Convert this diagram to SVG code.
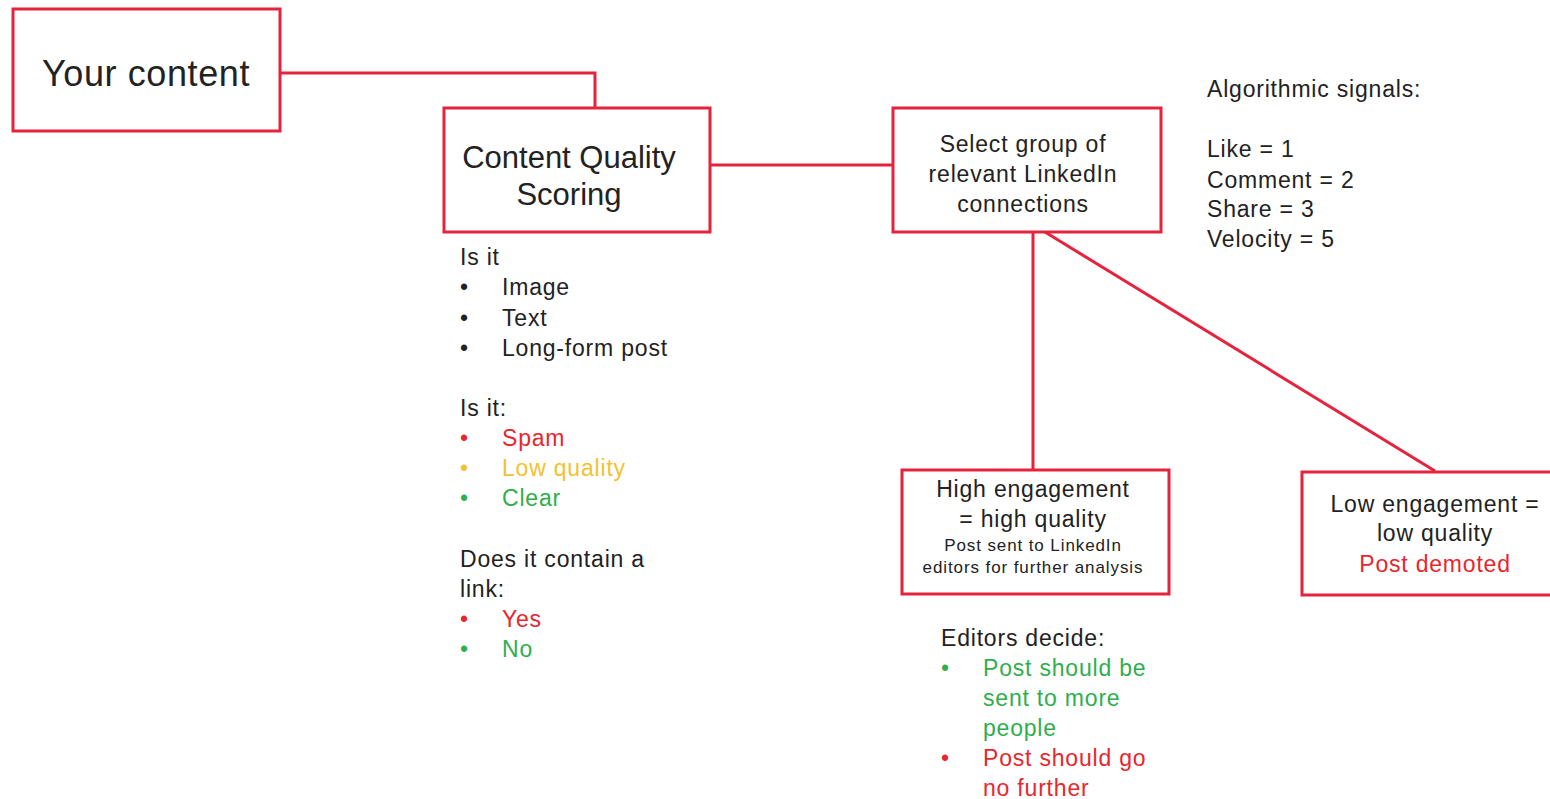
<svg xmlns="http://www.w3.org/2000/svg" width="1550" height="799" viewBox="0 0 1550 799">
<style>
.box{fill:#fff;stroke:#e5233d;stroke-width:3}
.ln{fill:none;stroke:#e5233d;stroke-width:3}
text{font-family:"Liberation Sans",Arial,sans-serif;fill:#222}
.c{text-anchor:middle}
.t{font-size:23px;letter-spacing:0.8px}
.s{font-size:17px;letter-spacing:0.9px}
.r{fill:#e8262e}
.y{fill:#f2c230}
.g{fill:#2fae4e}
</style>
<rect width="1550" height="799" fill="#fff"/>
<g id="connectors">
<polyline class="ln" points="280,73 595,73 595,108"/>
<line class="ln" x1="710" y1="165" x2="893" y2="165"/>
<line class="ln" x1="1033" y1="232" x2="1033" y2="470"/>
<line class="ln" x1="1045" y1="232" x2="1435" y2="471"/>
</g>
<g id="your-content">
<rect class="box" x="13" y="9" width="267" height="122"/>
<text class="c" x="146" y="86" font-size="36" letter-spacing="0.6">Your content</text>
</g>
<g id="content-quality">
<rect class="box" x="444" y="108" width="266" height="124"/>
<text class="c" x="569" y="168" font-size="31">Content Quality</text>
<text class="c" x="569" y="205" font-size="31">Scoring</text>
</g>
<g id="quality-criteria" class="t">
<text x="460" y="265">Is it</text>
<text x="460" y="295">•</text><text x="502" y="295">Image</text>
<text x="460" y="326">•</text><text x="502" y="326">Text</text>
<text x="460" y="356">•</text><text x="502" y="356">Long-form post</text>
<text x="460" y="416">Is it:</text>
<text class="r" x="460" y="446">•</text><text class="r" x="502" y="446">Spam</text>
<text class="y" x="460" y="476">•</text><text class="y" x="502" y="476">Low quality</text>
<text class="g" x="460" y="506">•</text><text class="g" x="502" y="506">Clear</text>
<text x="460" y="567">Does it contain a</text>
<text x="460" y="597">link:</text>
<text class="r" x="460" y="627">•</text><text class="r" x="502" y="627">Yes</text>
<text class="g" x="460" y="657">•</text><text class="g" x="502" y="657">No</text>
</g>
<g id="select-group">
<rect class="box" x="893" y="108" width="268" height="124"/>
<text class="c t" x="1023" y="152">Select group of</text>
<text class="c t" x="1023" y="182">relevant LinkedIn</text>
<text class="c t" x="1023" y="212">connections</text>
</g>
<g id="signals" class="t">
<text x="1207" y="97">Algorithmic signals:</text>
<text x="1207" y="157">Like = 1</text>
<text x="1207" y="188">Comment = 2</text>
<text x="1207" y="217">Share = 3</text>
<text x="1207" y="247">Velocity = 5</text>
</g>
<g id="high-engagement">
<rect class="box" x="902" y="470" width="267" height="124"/>
<text class="c t" x="1033" y="497">High engagement</text>
<text class="c t" x="1033" y="527">= high quality</text>
<text class="c s" x="1033" y="551">Post sent to LinkedIn</text>
<text class="c s" x="1033" y="573">editors for further analysis</text>
</g>
<g id="editors" class="t">
<text x="941" y="646">Editors decide:</text>
<text class="g" x="941" y="676">•</text><text class="g" x="983" y="676">Post should be</text>
<text class="g" x="983" y="706">sent to more</text>
<text class="g" x="983" y="736">people</text>
<text class="r" x="941" y="766">•</text><text class="r" x="983" y="766">Post should go</text>
<text class="r" x="983" y="796">no further</text>
</g>
<g id="low-engagement">
<rect class="box" x="1302" y="472" width="260" height="123"/>
<text class="c t" x="1435" y="512">Low engagement =</text>
<text class="c t" x="1435" y="541">low quality</text>
<text class="c t r" x="1435" y="572">Post demoted</text>
</g>
</svg>
